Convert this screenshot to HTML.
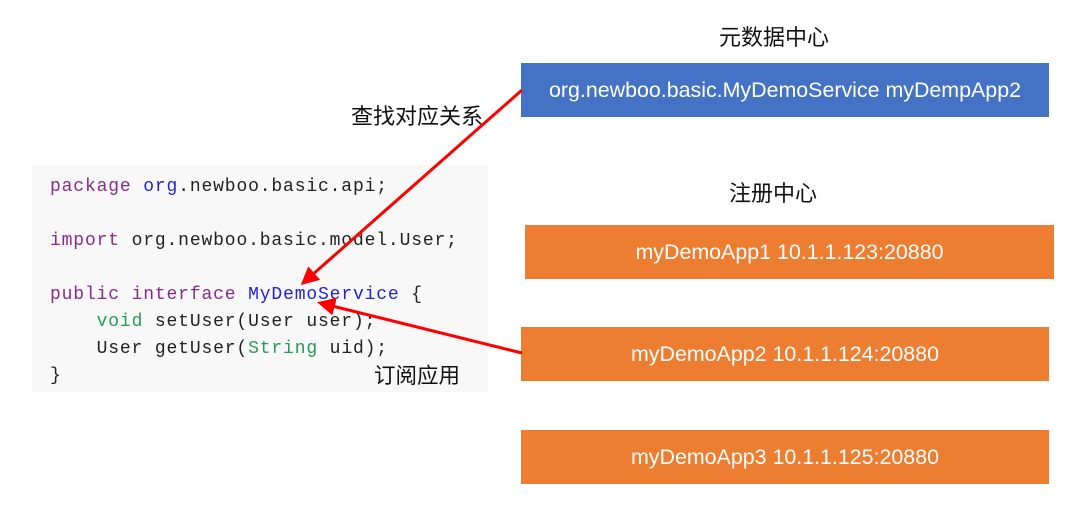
<!DOCTYPE html>
<html><head><meta charset="utf-8"><style>
body{margin:0;width:1080px;height:513px;background:#fff;position:relative;overflow:hidden;font-family:"Liberation Sans","Noto Sans CJK SC",sans-serif}
.t{position:absolute;font-size:22px;color:#111;line-height:26px}
.b{position:absolute;color:#fff;font-size:21.4px;display:flex;align-items:center;justify-content:center}
.code{position:absolute;left:32px;top:165px;width:456px;height:227px;background:#f8f8f8}
.l{position:absolute;left:50px;font-family:"Liberation Mono",monospace;font-size:18px;letter-spacing:0.85px;color:#222;white-space:pre;line-height:22px}
.k{color:#8a2a8f}.n{color:#2222dd}.g{color:#2a9a5a}
</style></head><body>
<div class="t" style="left:719px;top:25px">元数据中心</div>
<div class="b" style="left:521px;top:63px;width:528px;height:54px;background:#4472c4">org.newboo.basic.MyDemoService myDempApp2</div>
<div class="t" style="left:351px;top:104px">查找对应关系</div>
<div class="t" style="left:729px;top:181px">注册中心</div>
<div class="b" style="left:525px;top:225px;width:529px;height:54px;background:#ed7d31">myDemoApp1 10.1.1.123:20880</div>
<div class="b" style="left:521px;top:327px;width:528px;height:54px;background:#ed7d31">myDemoApp2 10.1.1.124:20880</div>
<div class="b" style="left:521px;top:430px;width:528px;height:54px;background:#ed7d31">myDemoApp3 10.1.1.125:20880</div>
<div class="code"></div>
<div class="l" style="top:176px"><span class="k">package</span> <span class="n">org</span>.newboo.basic.api;</div>
<div class="l" style="top:230px"><span class="k">import</span> org.newboo.basic.model.User;</div>
<div class="l" style="top:284px"><span class="k">public</span> <span class="k">interface</span> <span class="n">MyDemoService</span> {</div>
<div class="l" style="top:311px">    <span class="g">void</span> setUser(User user);</div>
<div class="l" style="top:338px">    User getUser(<span class="g">String</span> uid);</div>
<div class="l" style="top:365px">}</div>
<div class="t" style="left:374px;top:363px;font-size:21.5px">订阅应用</div>
<svg style="position:absolute;left:0;top:0" width="1080" height="513">
<defs><marker id="a" markerWidth="6" markerHeight="6" refX="5" refY="3" orient="auto" markerUnits="strokeWidth"><path d="M0,0L6,3L0,6z" fill="#f00"/></marker></defs>
<line x1="522" y1="90" x2="303" y2="283" stroke="#f00" stroke-width="3" marker-end="url(#a)"/>
<line x1="522" y1="353" x2="320" y2="303" stroke="#f00" stroke-width="3" marker-end="url(#a)"/>
</svg>
</body></html>
